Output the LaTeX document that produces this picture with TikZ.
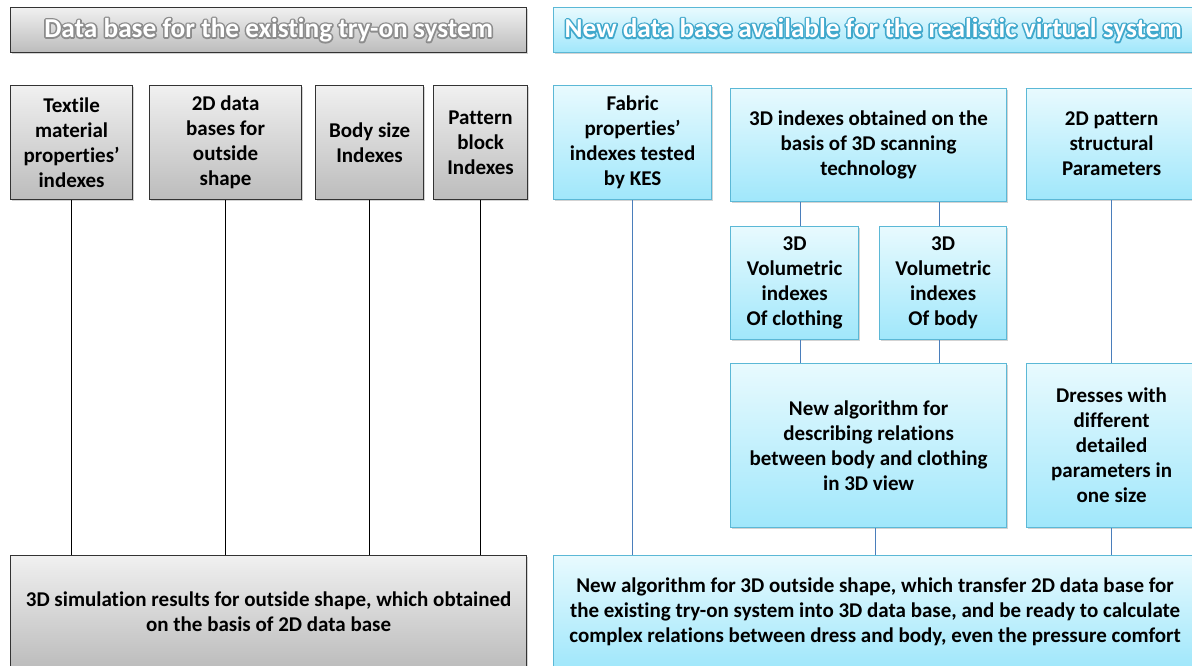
\documentclass[tikz,border=0pt]{standalone}
\usepackage{fontspec}
\setmainfont{Carlito}[Ligatures=NoCommon]
\usetikzlibrary{shadows}
\definecolor{grayline}{HTML}{333333}
\definecolor{graytop}{HTML}{F0F0F0}
\definecolor{graybot}{HTML}{BCBCBC}
\definecolor{bluetop}{HTML}{E8FAFE}
\definecolor{bluebot}{HTML}{A0E7FB}
\definecolor{blueedge}{HTML}{5BB8D6}
\definecolor{blueconn}{HTML}{4A7EBB}
% white title text with a stroked halo behind it (#1 = rgb stroke colour)
\newcommand\halo[2]{\setbox0\hbox{#2}%
\rlap{\special{pdf:code q 1 Tr 3.2 w 1 j #1 RG}\copy0\special{pdf:code Q}}%
\textcolor{white}{\box0}}
\tikzset{
  box/.style={anchor=north west, inner sep=0pt, align=center,
    font=\fontsize{21}{25}\selectfont\bfseries,
    drop shadow={shadow xshift=1.5pt, shadow yshift=-1.5pt, opacity=0.35}},
  graybox/.style={box, draw=grayline, line width=1.2pt, top color=graytop, bottom color=graybot},
  bluebox/.style={box, draw=blueedge, line width=1.2pt, top color=bluetop, bottom color=bluebot},
  kline/.style={draw=black, line width=0.9pt},
  bline/.style={draw=blueconn, line width=0.9pt}
}
% box at (x0,y0) with width w and height h, in px of the page
\newcommand\dbox[6]{\node[#1, minimum width=#4pt, minimum height=#5pt] (#2) at (#3) {#6};}
\newcommand\titlefont{\fontsize{27.3}{30}\selectfont\bfseries}
\begin{document}
\begin{tikzpicture}[x=1pt,y=-1pt]
\useasboundingbox (0,0) rectangle (1192,665);

% left part
\dbox{graybox}{hdL}{10,7}{516}{45}{\halo{0.55 0.55 0.55}{\titlefont Data base for the existing try-on system}}
\dbox{graybox}{tex}{10,85}{122}{114}{Textile\\material\\properties’\\indexes}
\dbox{graybox}{twod}{149,85}{152}{114}{2D data\\bases for\\outside\\shape}
\dbox{graybox}{bsz}{315,85}{108}{114}{Body size\\Indexes}
\dbox{graybox}{pbl}{433,85}{94}{114}{Pattern\\block\\Indexes}
\dbox{graybox}{resL}{10,555}{516}{113}{3D simulation results for outside shape, which obtained\\on the basis of 2D data base}

% right part
\dbox{bluebox}{hdR}{553,7}{639}{45}{\halo{0.25 0.66 0.80}{\titlefont New data base available for the realistic virtual system}}
\dbox{bluebox}{fab}{553,85}{158}{114}{Fabric\\properties’\\indexes tested\\by KES}
\dbox{bluebox}{idx}{730,88}{276}{113}{3D indexes obtained on the\\basis of 3D scanning\\technology}
\dbox{bluebox}{pat}{1026,88}{170}{111}{2D pattern\\structural\\Parameters}
\dbox{bluebox}{vc}{730,226}{128}{113}{3D\\Volumetric\\indexes\\Of clothing}
\dbox{bluebox}{vb}{879,226}{127}{113}{3D\\Volumetric\\indexes\\Of body}
\dbox{bluebox}{alg}{730,363}{276}{164}{New algorithm for\\describing relations\\between body and clothing\\in 3D view}
\dbox{bluebox}{drs}{1026,363}{170}{164}{Dresses with\\different\\detailed\\parameters in\\one size}
\dbox{bluebox}{resR}{553,555}{643}{113}{New algorithm for 3D outside shape, which transfer 2D data base for\\the existing try-on system into 3D data base, and be ready to calculate\\complex relations between dress and body, even the pressure comfort}

% connectors
\foreach \n in {tex,twod,bsz,pbl}
  \draw[kline] (\n.south) -- (\n.south |- resL.north);
\draw[bline] (fab.south) -- (fab.south |- resR.north);
\draw[bline] ([xshift=6]vc.north) -- ([xshift=6]vc.north |- idx.south);
\draw[bline] ([xshift=-3.5]vb.north) -- ([xshift=-3.5]vb.north |- idx.south);
\draw[bline] ([xshift=6]vc.south) -- ([xshift=6]vc.south |- alg.north);
\draw[bline] ([xshift=-3.5]vb.south) -- ([xshift=-3.5]vb.south |- alg.north);
\draw[bline] ([xshift=7]alg.south) -- ([xshift=7]alg.south |- resR.north);
\draw[bline] (pat.south) -- (drs.north);
\draw[bline] (drs.south) -- (drs.south |- resR.north);
\end{tikzpicture}
\end{document}
